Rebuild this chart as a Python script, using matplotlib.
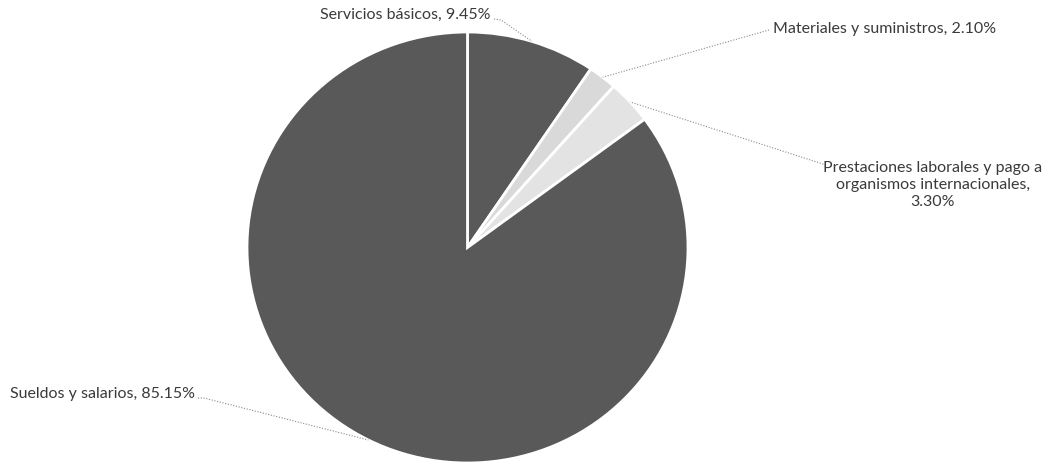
import numpy as np
import matplotlib
matplotlib.use("Agg")
from matplotlib import pyplot as plt

categories = [
    "Servicios básicos",
    "Materiales y suministros",
    "Prestaciones laborales y pago a\norganismos internacionales,\n",
    "Sueldos y salarios",
]
shares = [9.45, 2.10, 3.30, 85.15]
slice_colors = ["#595959", "#d9d9d9", "#e3e3e3", "#595959"]

plt.rcParams["font.family"] = ["Lato", "DejaVu Sans"]

W, H = 1060, 465
fig = plt.figure(figsize=(W / 100, H / 100), dpi=100)

# pie geometry in pixels (slightly elliptical like the original)
cx, cy, rx, ry = 467.5, 247.5, 220.5, 215.5
pax = fig.add_axes([(cx - rx) / W, 1 - (cy + ry) / H, 2 * rx / W, 2 * ry / H])
pax.pie(shares, colors=slice_colors, startangle=90, counterclock=False,
        wedgeprops={"edgecolor": "white", "linewidth": 2})
pax.set_aspect("auto")
pax.set_xlim(-1, 1)
pax.set_ylim(-1, 1)
pax.axis("off")

# overlay in pixel coords for labels + leader lines
ax = fig.add_axes([0, 0, 1, 1], zorder=3)
ax.set_xlim(0, W)
ax.set_ylim(H, 0)
ax.axis("off")
ax.patch.set_alpha(0)

# text placement: (x, y, ha, leader start, elbow)
layout = [
    (490, 15, "right", (494, 19), (501, 20)),
    (773, 29, "left", (769, 30), None),
    (933, 185, "center", (826, 165), None),
    (10, 394, "left", (198, 398), (204, 398)),
]

cum = np.cumsum([0] + shares[:-1])
for i, (lab, val) in enumerate(zip(categories, shares)):
    mid = np.deg2rad(90 - (cum[i] + val / 2) * 3.6)
    px, py = cx + rx * np.cos(mid), cy - ry * np.sin(mid)
    tx, ty, ha, start, elbow = layout[i]
    if lab.endswith("\n"):
        txt = lab + "{:.2f}%".format(val)
    else:
        txt = "{}, {:.2f}%".format(lab, val)
    ax.text(tx, ty, txt, ha=ha, va="center", fontsize=11.5,
            color="#3a3a3a", multialignment="center", linespacing=1.3)
    pts = [start] + ([elbow] if elbow else []) + [(px, py)]
    xs, ys = zip(*pts)
    ax.plot(xs, ys, color="#8a8a8a", linestyle=(0, (1, 1.5)), linewidth=0.8)

fig.savefig("out.png", dpi=100)
